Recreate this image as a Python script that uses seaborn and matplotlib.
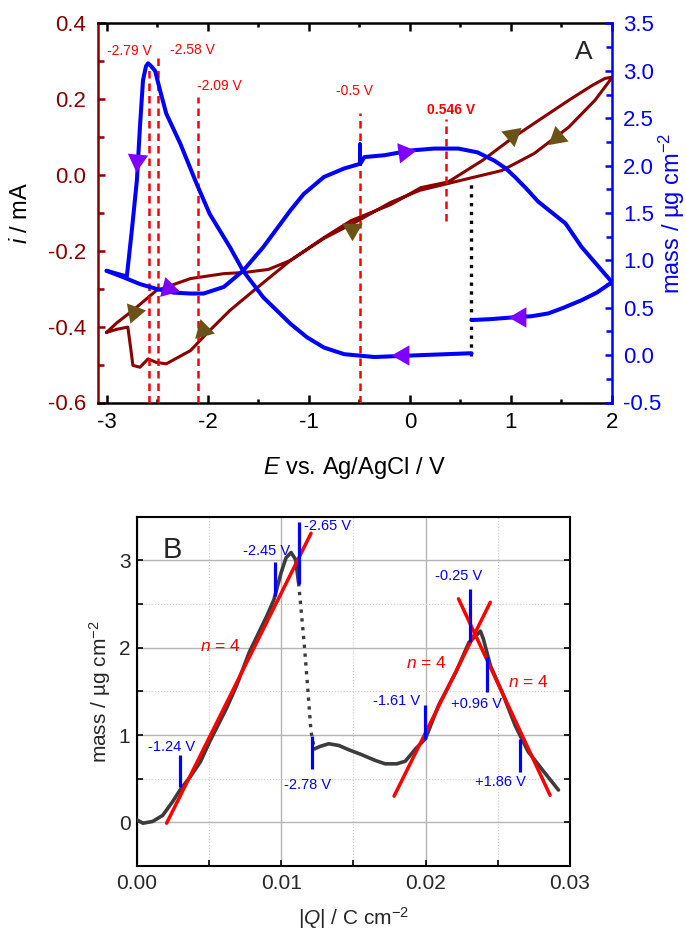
import numpy as np
import pandas as pd
import matplotlib
matplotlib.use("Agg")
import matplotlib.pyplot as plt
from matplotlib.markers import MarkerStyle
from matplotlib.ticker import MultipleLocator
import seaborn as sns

# ---------------- Panel A: cyclic voltammogram (current) ----------------
cv_E = [-3.00, -2.90, -2.74, -2.51, -2.17, -1.84, -1.64, -1.40, -1.18, -0.85, -0.58, -0.19,
        0.11, 0.38, 0.72, 1.02, 1.30, 1.57, 1.80, 1.93, 1.99,
        1.98, 1.83, 1.57, 1.23, 0.91, 0.58, 0.38, 0.10, -0.19, -0.51, -0.85, -1.18, -1.51,
        -1.78, -2.01, -2.17, -2.41, -2.51, -2.59, -2.67, -2.74, -2.76, -2.79, -2.90, -3.00]
cv_i = [-0.415, -0.390, -0.357, -0.305, -0.273, -0.260, -0.257, -0.249, -0.225, -0.165, -0.120, -0.078,
        -0.033, -0.018, 0.039, 0.099, 0.149, 0.197, 0.236, 0.255, 0.258,
        0.250, 0.197, 0.126, 0.057, 0.012, -0.009, -0.022, -0.040, -0.072, -0.120, -0.167, -0.225, -0.297,
        -0.357, -0.418, -0.463, -0.498, -0.494, -0.485, -0.507, -0.502, -0.460, -0.401, -0.407, -0.415]

# mass response (right axis), several recorded pieces
mass_E_a = [2.00, 1.85, 1.70, 1.52, 1.37, 1.20, 1.04, 0.80, 0.61]
mass_a = [0.77, 0.66, 0.58, 0.50, 0.44, 0.41, 0.40, 0.38, 0.37]
mass_E_b = [0.61, 0.11, -0.35, -0.65, -0.85, -1.02, -1.18, -1.45, -1.65, -1.78, -1.98, -2.11, -2.27, -2.41,
            -2.47, -2.52, -2.56, -2.59, -2.61, -2.64, -2.67, -2.70, -2.75, -2.80, -2.90, -3.00]
mass_b = [0.02, 0.00, -0.02, 0.01, 0.08, 0.19, 0.33, 0.61, 0.89, 1.14, 1.49, 1.81, 2.23, 2.55,
          2.79, 3.00, 3.05, 3.08, 3.05, 2.90, 2.41, 1.85, 1.32, 0.83, 0.86, 0.89]
mass_E_c = [-3.00, -2.83, -2.67, -2.51, -2.34, -2.17, -2.04, -1.84, -1.65, -1.45, -1.18, -1.05, -0.85,
            -0.65, -0.49, -0.45, -0.25, 0.01, 0.24, 0.48, 0.67, 0.84, 0.95, 1.04, 1.15, 1.27, 1.54,
            1.70, 1.87, 2.00]
mass_c = [0.89, 0.82, 0.75, 0.70, 0.66, 0.65, 0.65, 0.72, 0.89, 1.14, 1.53, 1.70, 1.88,
          1.97, 2.02, 2.09, 2.11, 2.16, 2.18, 2.18, 2.14, 2.05, 1.97, 1.88, 1.76, 1.62, 1.39,
          1.14, 0.93, 0.77]
mass_E_d = [-0.49, -0.49]
mass_d = [2.02, 2.23]

# scan direction arrows
cur_arrow_E = [-2.73, -2.05, -0.57, 1.01, 1.46]
cur_arrow_i = [-0.360, -0.410, -0.142, 0.106, 0.100]
cur_arrow_dir = [-110, -135, 30, 40, -140]
mass_arrow_E = [-2.70, -2.39, -0.06, -0.07, 1.09]
mass_arrow_m = [2.06, 0.71, 2.14, 0.00, 0.40]
mass_arrow_dir = [-95, -15, 8, 180, 180]

# marked potentials (dashed lines)
vline_E = [-2.58, -2.49, -2.10, -0.49, 0.36]
vline_top = [0.294, 0.310, 0.205, 0.165, 0.149]
vline_bottom = [-0.60, -0.60, -0.60, -0.60, -0.12]
vtext = ["-2.79 V", "-2.58 V", "-2.09 V", "-0.5 V", "0.546 V"]
vtext_E = [-2.77, -2.15, -1.88, -0.55, 0.41]
vtext_i = [0.327, 0.330, 0.235, 0.222, 0.172]
vtext_bold = [False, False, False, False, True]

jump_E = [0.61, 0.61]
jump_i = [-0.476, -0.014]

# ---------------- Panel B: mass vs charge ----------------
q_solid1 = [0.0, 0.00043, 0.0011, 0.0018, 0.0025, 0.0030, 0.0037, 0.0044, 0.0051, 0.0062, 0.0069,
            0.0078, 0.0090, 0.0095, 0.0100, 0.01034, 0.01069, 0.0110, 0.01121]
m_solid1 = [0.03, -0.01, 0.01, 0.08, 0.24, 0.37, 0.52, 0.69, 0.94, 1.30, 1.56,
            1.95, 2.36, 2.55, 2.86, 3.03, 3.09, 3.01, 2.74]
q_dot = [0.01121, 0.01138, 0.01161, 0.01183, 0.01207, 0.0123]
m_dot = [2.74, 2.44, 2.02, 1.56, 1.04, 0.84]
q_solid2 = [0.0123, 0.0127, 0.0133, 0.0140, 0.0147, 0.0155, 0.0165, 0.0172, 0.0180, 0.0186, 0.0193,
            0.0200, 0.0209, 0.0221, 0.0230, 0.02345, 0.0238, 0.0240, 0.0245, 0.0253, 0.0262, 0.0271,
            0.0280, 0.0292]
m_solid2 = [0.84, 0.87, 0.90, 0.88, 0.83, 0.78, 0.71, 0.67, 0.67, 0.70, 0.84,
            0.96, 1.34, 1.72, 2.06, 2.13, 2.19, 2.10, 1.79, 1.49, 1.11, 0.81,
            0.62, 0.37]

fit_q_start = [0.00207, 0.01782, 0.02228]
fit_m_start = [-0.01, 0.30, 2.56]
fit_q_end = [0.01207, 0.02448, 0.02862]
fit_m_end = [3.31, 2.52, 0.31]
fit_text_q = [0.00576, 0.02002, 0.02713]
fit_text_m = [2.02, 1.83, 1.61]

mark_q = [0.00299, 0.00959, 0.01126, 0.01211, 0.01995, 0.0231, 0.02425, 0.02655]
mark_lo = [0.41, 2.59, 2.73, 0.61, 0.96, 2.06, 1.49, 0.58]
mark_hi = [0.77, 2.98, 3.44, 0.99, 1.34, 2.67, 1.89, 0.96]
mark_text = ["-1.24 V", "-2.45 V", "-2.65 V", "-2.78 V", "-1.61 V", "-0.25 V", "+0.96 V", "+1.86 V"]
mark_text_q = [0.00243, 0.00899, 0.01319, 0.01181, 0.01802, 0.0223, 0.02354, 0.0252]
mark_text_m = [0.866, 3.11, 3.39, 0.433, 1.39, 2.82, 1.355, 0.467]

DARKRED = "#8b0000"
BLUE = "#0000ff"
BROWN = "#6b5216"
PURPLE = "#8000ff"
RED = "#ff0000"
GRAY = "#3c3c3c"

sns.set_theme(style="ticks")
plt.rcParams["font.family"] = ["Liberation Sans", "DejaVu Sans"]
plt.rcParams["mathtext.fontset"] = "custom"
plt.rcParams["mathtext.rm"] = "Liberation Sans"
plt.rcParams["mathtext.it"] = "Liberation Sans:italic"
plt.rcParams["mathtext.bf"] = "Liberation Sans:bold"
plt.rcParams["axes.unicode_minus"] = False

fig = plt.figure(figsize=(6.86, 9.33), dpi=100)
axA = fig.add_axes([97.5 / 686, 1 - 402.5 / 933, 514.5 / 686, 379 / 933])
axM = axA.twinx()
axB = fig.add_axes([136.7 / 686, 1 - 866 / 933, 433.3 / 686, 349.3 / 933])


def arrow_marks(ax, xs, ys, dirs, color):
    for x, y, d in zip(xs, ys, dirs):
        ax.plot(x, y, marker=MarkerStyle((3, 0, d - 90)), ms=17, color=color,
                mec="none", ls="none", zorder=6)


# ---- panel A drawing ----
cv_df = pd.DataFrame({"E": cv_E, "i": cv_i})
sns.lineplot(data=cv_df, x="E", y="i", sort=False, estimator=None, ax=axA,
             color=DARKRED, lw=2.2, legend=False)

for e, top, bot in zip(vline_E, vline_top, vline_bottom):
    axA.plot([e, e], [bot, top], color=RED, lw=1.8, ls=(0, (3.0, 2.0)), zorder=3)
for t, x, y, b in zip(vtext, vtext_E, vtext_i, vtext_bold):
    axA.text(x, y, t, color=RED, fontsize=10, ha="center", va="center",
             fontweight="bold" if b else "normal")
axA.plot(jump_E, jump_i, color="black", lw=2.4, ls=":", zorder=4)
arrow_marks(axA, cur_arrow_E, cur_arrow_i, cur_arrow_dir, BROWN)

mass_df = pd.concat([
    pd.DataFrame({"E": mass_E_a, "m": mass_a, "seg": "a"}),
    pd.DataFrame({"E": mass_E_b, "m": mass_b, "seg": "b"}),
    pd.DataFrame({"E": mass_E_c, "m": mass_c, "seg": "c"}),
    pd.DataFrame({"E": mass_E_d, "m": mass_d, "seg": "d"}),
])
sns.lineplot(data=mass_df, x="E", y="m", units="seg", sort=False, estimator=None, ax=axM,
             color=BLUE, lw=2.9, legend=False)
arrow_marks(axM, mass_arrow_E, mass_arrow_m, mass_arrow_dir, PURPLE)

axA.set_xlim(-3.09, 2.0)
axA.set_ylim(-0.6, 0.4)
axM.set_ylim(-0.5, 3.5)
axA.xaxis.set_major_locator(MultipleLocator(1))
axA.xaxis.set_minor_locator(MultipleLocator(0.5))
axA.yaxis.set_major_locator(MultipleLocator(0.2))
axA.yaxis.set_minor_locator(MultipleLocator(0.1))
axM.yaxis.set_major_locator(MultipleLocator(0.5))
axM.yaxis.set_minor_locator(MultipleLocator(0.25))

for side in ["top", "bottom"]:
    axA.spines[side].set_color("black")
    axA.spines[side].set_linewidth(1.8)
    axM.spines[side].set_visible(False)
axA.spines["left"].set_color(DARKRED)
axA.spines["left"].set_linewidth(1.8)
axA.spines["right"].set_visible(False)
axM.spines["left"].set_visible(False)
axM.spines["right"].set_color(BLUE)
axM.spines["right"].set_linewidth(1.8)

axA.tick_params(axis="x", which="both", direction="in", top=True, bottom=True,
                labelsize=16, pad=7, width=1.8, color="black", labelcolor="black")
axA.tick_params(axis="x", which="major", length=6)
axA.tick_params(axis="x", which="minor", length=3)
axA.tick_params(axis="y", which="both", direction="in", left=True, right=False,
                labelsize=16, pad=8, width=1.8, color=DARKRED, labelcolor=DARKRED)
axA.tick_params(axis="y", which="major", length=5)
axA.tick_params(axis="y", which="minor", length=4)
axM.tick_params(axis="y", which="both", direction="in", right=True, left=False,
                labelsize=16, pad=8, width=1.8, color=BLUE, labelcolor=BLUE)
axM.tick_params(axis="y", which="major", length=5)
axM.tick_params(axis="y", which="minor", length=4)

axA.set_xlabel(r"$E$ vs. Ag/AgCl / V", fontsize=17, color="black")
axA.xaxis.set_label_coords(0.5, -0.1385)
axA.set_ylabel(r"$i$ / mA", fontsize=17, color="black")
axA.yaxis.set_label_coords(-0.127, 0.5)
axM.set_ylabel(r"mass / µg cm$^{-2}$", fontsize=17, color=BLUE)
axM.yaxis.set_label_coords(1.087, 0.5)
axA.text(0.945, 0.926, "A", transform=axA.transAxes, fontsize=19, ha="center", va="center")

# ---- panel B drawing ----
gray_df = pd.concat([
    pd.DataFrame({"Q": q_solid1, "m": m_solid1, "seg": "1"}),
    pd.DataFrame({"Q": q_solid2, "m": m_solid2, "seg": "2"}),
])
sns.lineplot(data=gray_df, x="Q", y="m", units="seg", sort=False, estimator=None, ax=axB,
             color=GRAY, lw=2.6, legend=False, zorder=3)
axB.plot(q_dot, m_dot, color=GRAY, lw=2.4, ls=":", zorder=3)

fit_rows = []
for k, (q0, m0, q1, m1) in enumerate(zip(fit_q_start, fit_m_start, fit_q_end, fit_m_end)):
    fit_rows.append({"Q": q0, "m": m0, "fit": k})
    fit_rows.append({"Q": q1, "m": m1, "fit": k})
fit_df = pd.DataFrame(fit_rows)
sns.lineplot(data=fit_df, x="Q", y="m", units="fit", sort=False, estimator=None, ax=axB,
             color=RED, lw=2.5, legend=False, zorder=4)
for x, y in zip(fit_text_q, fit_text_m):
    axB.text(x, y, r"$n$ = 4", color=RED, fontsize=12.5, ha="center", va="center")

axB.vlines(mark_q, mark_lo, mark_hi, color=BLUE, lw=2.3, zorder=5)
for t, x, y in zip(mark_text, mark_text_q, mark_text_m):
    axB.text(x, y, t, color=BLUE, fontsize=10.5, ha="center", va="center")

axB.set_xlim(0, 0.03)
axB.set_ylim(-0.5, 3.5)
axB.xaxis.set_major_locator(MultipleLocator(0.01))
axB.xaxis.set_minor_locator(MultipleLocator(0.005))
axB.yaxis.set_major_locator(MultipleLocator(1))
axB.yaxis.set_minor_locator(MultipleLocator(0.5))
axB.set_axisbelow(True)
axB.grid(which="major", color="#b4b4b4", lw=1.0, ls="-")
axB.grid(which="minor", color="#c8c8c8", lw=0.8, ls=":")
for side in axB.spines:
    axB.spines[side].set_color("black")
    axB.spines[side].set_linewidth(1.5)
axB.tick_params(axis="both", which="both", direction="in", top=False, right=True,
                labelsize=15, width=1.2, color="black", length=4)
axB.tick_params(axis="x", pad=6)
axB.tick_params(axis="y", pad=4.5)
axB.set_xlabel(r"|$Q$| / C cm$^{-2}$", fontsize=15)
axB.xaxis.set_label_coords(0.5, -0.112)
axB.set_ylabel(r"mass / µg cm$^{-2}$", fontsize=15)
axB.yaxis.set_label_coords(-0.0547, 0.5)
axB.text(0.082, 0.905, "B", transform=axB.transAxes, fontsize=21, ha="center", va="center")

fig.savefig("out.png", dpi=100)
